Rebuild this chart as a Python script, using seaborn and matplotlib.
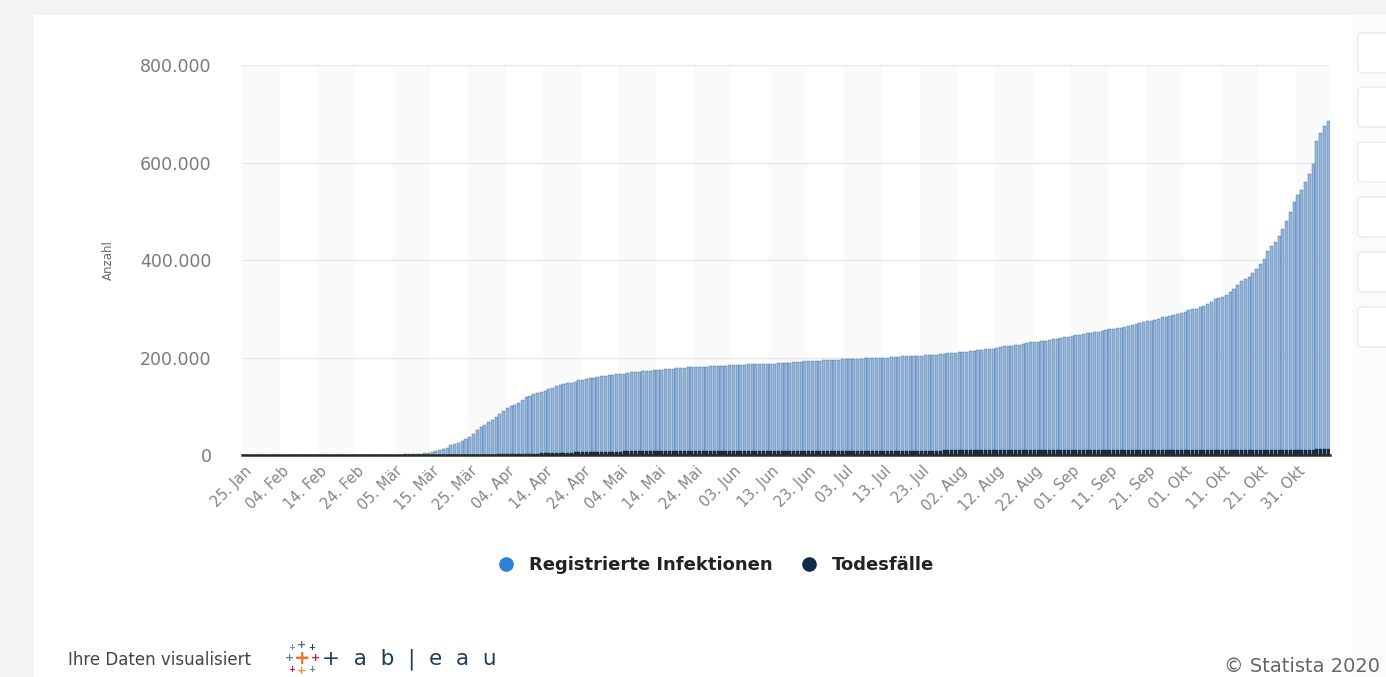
import matplotlib
matplotlib.use("Agg")
import numpy as np
import pandas as pd
import seaborn as sns
import matplotlib.pyplot as plt
from matplotlib.lines import Line2D
from matplotlib.patches import Rectangle, FancyBboxPatch

# ---------------- data ----------------
series_names = ["Registrierte Infektionen", "Todesfälle"]

inf_jan = [0, 0, 1, 4, 4, 4, 5]
inf_feb = [8, 10, 12, 12, 12, 12, 13, 13, 14, 14, 16, 16, 16, 16, 16, 16, 16, 16, 16, 16,
           16, 16, 16, 16, 17, 27, 46, 48, 79]
inf_mar = [130, 159, 196, 262, 482, 670, 799, 1040, 1176, 1457, 1908, 2078, 3675, 4585, 5795,
           7272, 9257, 12327, 15320, 19848, 22213, 24873, 29056, 32986, 37323, 43938, 50871,
           57695, 62095, 66885, 71808]
inf_apr = [77872, 84794, 91159, 96092, 100123, 103374, 107663, 113296, 118181, 122171, 124908,
           127854, 130072, 131359, 134753, 137698, 141397, 143342, 145184, 147065, 148291,
           150648, 153129, 154999, 156513, 157770, 158758, 159912, 161539, 163009]
inf_mai = [164077, 164967, 165664, 166152, 167007, 168162, 169430, 170588, 171324, 171879,
           172576, 173171, 174098, 174478, 175233, 175752, 176369, 176551, 177778, 178473,
           179021, 179710, 179986, 180328, 180600, 181200, 181524, 182196, 182922, 183189, 183410]
inf_jun = [183594, 184121, 184472, 184924, 185450, 185750, 186022, 186269, 186522, 186839,
           187226, 187267, 187518, 187682, 188252, 188604, 189135, 189822, 190299, 190670,
           191272, 192079, 192556, 193243, 193499, 194036, 194458, 194693, 194725, 195392]
inf_jul = [195893, 196370, 196780, 197198, 197341, 197523, 198064, 198343, 198699, 199001,
           199375, 199726, 199919, 200180, 200890, 201450, 201823, 202345, 202735, 202950,
           203325, 203717, 204276, 204881, 205609, 205623, 206242, 206926, 207707, 208546, 209653]
inf_aug = [210402, 210670, 211281, 212022, 213067, 214214, 215336, 216327, 216903, 217293,
           218519, 219964, 221413, 222828, 224014, 224488, 225404, 226700, 228120, 229706,
           231292, 232082, 232864, 233575, 234853, 236429, 237936, 239010, 240571, 241771, 243305]
inf_sep = [244802, 246166, 247411, 248997, 249985, 250799, 252298, 253474, 254474, 256850,
           258149, 259735, 260355, 261737, 263222, 265012, 267773, 269048, 271415, 272337,
           274158, 275927, 278070, 280223, 282730, 284140, 285332, 287421, 289219, 291722]
inf_okt = [294395, 296958, 299237, 300619, 303258, 306086, 310144, 314660, 319381, 322864,
           325331, 329453, 334585, 341223, 348557, 356387, 361974, 366299, 373167, 381275,
           392049, 403291, 418005, 429181, 437866, 449275, 464239, 481013, 499694, 518753, 532930]
inf_nov = [545027, 560379, 577593, 597583, 645000, 662000, 675000, 686000]

tod_jan = [0, 0, 0, 0, 0, 0, 0]
tod_feb = [0] * 29
tod_mar = [0, 0, 0, 0, 0, 0, 0, 0, 2, 2, 3, 3, 7, 9, 11, 17, 24, 28, 44, 67, 84, 94, 123, 157,
           206, 267, 342, 433, 533, 645, 775]
tod_apr = [920, 1107, 1275, 1444, 1584, 1810, 2016, 2349, 2607, 2767, 2894, 3022, 3194, 3294,
           3804, 4052, 4352, 4459, 4586, 4862, 5033, 5279, 5575, 5760, 5877, 5976, 6126, 6314,
           6467, 6623]
tod_mai = [6736, 6812, 6866, 6993, 7275, 7392, 7510, 7549, 7569, 7661, 7738, 7861, 7884, 7897,
           7938, 7962, 8003, 8081, 8144, 8203, 8228, 8261, 8283, 8309, 8372, 8428, 8470, 8504,
           8530, 8540, 8555]
tod_jun = [8563, 8602, 8635, 8658, 8673, 8685, 8692, 8729, 8753, 8777, 8791, 8801, 8810, 8856,
           8875, 8887, 8895, 8914, 8927, 8928, 8961, 8976, 8995, 9006, 9006, 9010, 9022, 9027,
           9042, 9064]
tod_jul = [9069, 9072, 9078, 9079, 9081, 9083, 9092, 9105, 9109, 9117, 9125, 9130, 9135, 9160,
           9168, 9174, 9179, 9185, 9195, 9202, 9209, 9215, 9224, 9226, 9228, 9229, 9232, 9236,
           9250, 9257, 9265]
tod_aug = [9268, 9269, 9277, 9282, 9291, 9294, 9302, 9311, 9312, 9315, 9324, 9325, 9337, 9348,
           9351, 9351, 9352, 9367, 9373, 9379, 9389, 9390, 9392, 9393, 9396, 9404, 9413, 9421,
           9432, 9433, 9439]
tod_sep = [9441, 9443, 9452, 9460, 9468, 9490, 9491, 9497, 9499, 9503, 9508, 9519, 9521, 9524,
           9537, 9543, 9553, 9560, 9594, 9600, 9606, 9608, 9619, 9638, 9656, 9667, 9671, 9686,
           9702, 9728]
tod_okt = [9734, 9746, 9764, 9768, 9778, 9789, 9810, 9836, 9852, 9877, 9890, 9897, 9910, 9947,
           9995, 10028, 10048, 10056, 10069, 10098, 10130, 10197, 10248, 10290, 10314, 10347,
           10437, 10531, 10621, 10702, 10811]
tod_nov = [10910, 10989, 11142, 11260, 11391, 11590, 11706, 11767]

x_tick_labels = ["25. Jan", "04. Feb", "14. Feb", "24. Feb", "05. Mär", "15. Mär", "25. Mär",
                 "04. Apr", "14. Apr", "24. Apr", "04. Mai", "14. Mai", "24. Mai", "03. Jun",
                 "13. Jun", "23. Jun", "03. Jul", "13. Jul", "23. Jul", "02. Aug", "12. Aug",
                 "22. Aug", "01. Sep", "11. Sep", "21. Sep", "01. Okt", "11. Okt", "21. Okt",
                 "31. Okt"]
y_ticks = [0, 200000, 400000, 600000, 800000]
y_tick_labels = ["0", "200.000", "400.000", "600.000", "800.000"]

# ---------------- assemble ----------------
infections = (inf_jan + inf_feb + inf_mar + inf_apr + inf_mai + inf_jun + inf_jul + inf_aug
              + inf_sep + inf_okt + inf_nov)
deaths = (tod_jan + tod_feb + tod_mar + tod_apr + tod_mai + tod_jun + tod_jul + tod_aug
          + tod_sep + tod_okt + tod_nov)
dates = pd.date_range("2020-01-25", periods=len(infections), freq="D")
day_labels = [d.strftime("%d.%m.") for d in dates]

df = pd.concat([
    pd.DataFrame({"Tag": day_labels, "Serie": series_names[0], "Anzahl": infections}),
    pd.DataFrame({"Tag": day_labels, "Serie": series_names[1], "Anzahl": deaths}),
], ignore_index=True)

# ---------------- figure ----------------
sns.set_theme(style="white")
plt.rcParams["font.family"] = ["DejaVu Sans"]

W, H = 1386, 677
fig = plt.figure(figsize=(W / 100, H / 100), dpi=100, facecolor="white")

def fx(px):
    return px / W

def fy(py):
    return 1 - py / H

# page frame (grey strips around the white card)
fig.patches.append(Rectangle((0, fy(15)), 1, 15 / H, transform=fig.transFigure,
                             facecolor="#f3f3f3", edgecolor="none", zorder=0))
fig.patches.append(Rectangle((0, 0), fx(34), 1, transform=fig.transFigure,
                             facecolor="#f3f3f3", edgecolor="none", zorder=0))
fig.patches.append(Rectangle((fx(1352), 0), fx(40), fy(15), transform=fig.transFigure,
                             facecolor="#fbfbfb", edgecolor="none", zorder=0))
for top in [33, 87, 142, 197, 252, 307]:
    fig.patches.append(FancyBboxPatch((fx(1358), fy(top + 40)), fx(60), 40 / H,
                                      boxstyle="round,pad=0,rounding_size=0.004",
                                      transform=fig.transFigure, facecolor="white",
                                      edgecolor="#ebebeb", linewidth=1.0, zorder=1))

ax = fig.add_axes([fx(242), fy(455), fx(1330) - fx(242), fy(65.4) - fy(455)])
ax.set_facecolor("white")

# alternating very faint background bands (every 10 days)
for start in range(0, len(dates), 20):
    ax.axvspan(start - 0.5, start + 9.5, color="#fafafa", zorder=0, lw=0)

sns.barplot(data=df, x="Tag", y="Anzahl", hue="Serie", hue_order=series_names,
            order=day_labels,
            palette={series_names[0]: "#8ab5e8", series_names[1]: "#0f2b46"},
            dodge=False, width=0.8, legend=False, ax=ax, zorder=2)

for p in ax.containers[0]:
    p.set_edgecolor("#3a6b9c")
    p.set_linewidth(0.3)
for p in ax.containers[1]:
    p.set_edgecolor("#0f2b46")
    p.set_linewidth(0.3)

ax.set_xlim(-0.5, len(dates) - 0.5)
ax.set_ylim(0, 800000)
ax.set_yticks(y_ticks)
ax.set_yticklabels(y_tick_labels)
ax.set_xticks(range(0, 10 * len(x_tick_labels), 10))
ax.set_xticklabels(x_tick_labels, rotation=45, ha="right", rotation_mode="anchor")
ax.tick_params(axis="x", length=0, pad=6, labelsize=10.5, labelcolor="#858585")
ax.tick_params(axis="y", length=0, pad=22, labelsize=12.5, labelcolor="#7a7a7a")
ax.set_xlabel("")
ax.set_ylabel("")
ax.set_axisbelow(True)
ax.yaxis.grid(True, color="#e6e6e6", linewidth=0.9)
ax.xaxis.grid(False)
for s in ["top", "right", "left"]:
    ax.spines[s].set_visible(False)
ax.spines["bottom"].set_color("#2a2a2a")
ax.spines["bottom"].set_linewidth(1.8)
ax.spines["bottom"].set_zorder(5)

fig.text(fx(108), fy(260), "Anzahl", rotation=90, ha="center", va="center",
         fontsize=8.5, color="#6a6a6a")

# legend
handles = [Line2D([], [], marker="o", linestyle="none", markersize=10.5,
                  markerfacecolor="#2f7ed8", markeredgecolor="none"),
           Line2D([], [], marker="o", linestyle="none", markersize=10.5,
                  markerfacecolor="#0f2b46", markeredgecolor="none")]
fig.legend(handles, series_names, loc="center", bbox_to_anchor=(fx(711), fy(565)),
           ncol=2, frameon=False, handletextpad=0.3, columnspacing=1.0,
           prop={"weight": "bold", "size": 13}, labelcolor="#222222")

# footer
fig.text(fx(68), fy(660), "Ihre Daten visualisiert", ha="left", va="center",
         fontsize=12, color="#444444")
logo = [(302, 658, "+", "#e8762b", 14), (302, 645, "+", "#5b6591", 8),
        (302, 671, "+", "#eb912b", 8), (289, 658, "+", "#59879b", 8),
        (315, 658, "+", "#c72037", 8), (292, 647, "+", "#7099a6", 6),
        (312, 647, "+", "#1f457e", 6), (292, 669, "+", "#c72037", 6),
        (312, 669, "+", "#5b879b", 6)]
for lx, ly, t, c, s in logo:
    fig.text(fx(lx), fy(ly), t, ha="center", va="center", fontsize=s, color=c,
             fontweight="bold")
fig.text(fx(322), fy(659), "+  a  b  |  e  a  u", ha="left", va="center",
         fontsize=15.5, color="#1f3a5f")
fig.text(fx(1224), fy(666), "© Statista 2020", ha="left", va="center",
         fontsize=14, color="#666666")

fig.savefig("out.png", dpi=100, facecolor="white")
